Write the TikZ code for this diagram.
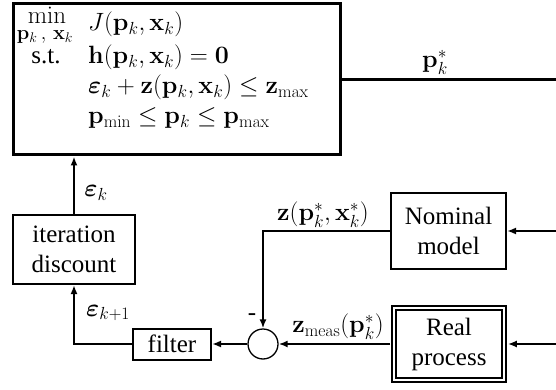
\RequirePackage{fix-cm}
\documentclass[tikz,border=0pt]{standalone}
\usepackage{amsmath}
\usepackage{bm}
\usepackage[no-math]{fontspec}
\setmainfont{Liberation Serif}
\usetikzlibrary{arrows.meta}
\begin{document}
\begin{tikzpicture}[x=1pt,y=-1pt,font=\fontsize{25}{30}\selectfont,
  blk/.style={draw,line width=2pt,align=center,inner sep=0pt},
  conn/.style={line width=2.4pt,-{Latex[length=9pt,width=7pt]}},
  wire/.style={line width=2.4pt},
  lbl/.style={inner sep=0pt},
  rowl/.style={inner sep=0pt,anchor=base west},
  rowc/.style={inner sep=0pt,anchor=base}]
\useasboundingbox (0,0) rectangle (556,390);
% optimisation block
\node[blk,line width=3pt,minimum width=327pt,minimum height=151pt] (opt) at (176.5,79.5) {};
\node[rowc] (rmin) at (47,24) {$\mathrm{min}$};
\node[rowc,font=\fontsize{20}{24}\selectfont] (rminsub) at (45,40) {$\mathbf{p}_k\,,\,\mathbf{x}_k$};
\node[rowl] (r1) at (88,31) {$J(\mathbf{p}_k,\mathbf{x}_k)$};
\node[rowc] (rst) at (46,64) {s.t.};
\node[rowl] (r2) at (88,64) {$\mathbf{h}(\mathbf{p}_k,\mathbf{x}_k)=\mathbf{0}$};
\node[rowl] (r3) at (88,94) {$\bm{\varepsilon}_k+\mathbf{z}(\mathbf{p}_k,\mathbf{x}_k)\le\mathbf{z}_{\max}$};
\node[rowl] (r4) at (88,124) {$\mathbf{p}_{\min}\le\mathbf{p}_k\le\mathbf{p}_{\max}$};
% other blocks
\node[blk,minimum width=122pt,minimum height=69pt] (iter) at (74,249.5) {iteration\\discount};
\node[blk,minimum width=78pt,minimum height=31pt] (filt) at (172,344) {filter};
\node[circle,draw,line width=1.3pt,minimum size=30pt,inner sep=0pt] (sum) at (263,344) {};
\node[blk,minimum width=115pt,minimum height=76pt] (nom) at (448.5,231) {Nominal\\model};
\node[blk,double,double distance=2.4pt,line width=1.6pt,minimum width=110.4pt,minimum height=72.4pt] (real) at (449,344) {Real\\process};
% free ends
\coordinate (pout) at (556,79.5);
\coordinate (nin) at (556,231);
\coordinate (rin) at (556,344);
% connectors
\draw[wire] (opt.east) -- (pout);
\node[lbl] (plbl) at (435,62) {$\mathbf{p}_k^*$};
\draw[conn] (iter.north) -- (iter.north |- opt.south);
\node[lbl] (epsk) at (96,193) {$\bm{\varepsilon}_k$};
\draw[conn] (sum.west) -- (filt.east);
\draw[conn] (filt.west) -| (iter.south);
\node[lbl] (epsk1) at (108,313) {$\bm{\varepsilon}_{k+1}$};
\draw[conn] (nom.west) -| (sum.north);
\node[lbl] (minus) at (252,317) {-};
\node[lbl] (zlbl) at (323,215) {$\mathbf{z}(\mathbf{p}_k^*,\mathbf{x}_k^*)$};
\draw[conn,shorten <=3pt] (real.west) -- (sum.east);
\node[lbl] (zmlbl) at (338,327) {$\mathbf{z}_{\mathrm{meas}}(\mathbf{p}_k^*)$};
\draw[conn] (nin) -- (nom.east);
\draw[conn] (rin) -- ([xshift=2.8pt]real.east);
\end{tikzpicture}
\end{document}
